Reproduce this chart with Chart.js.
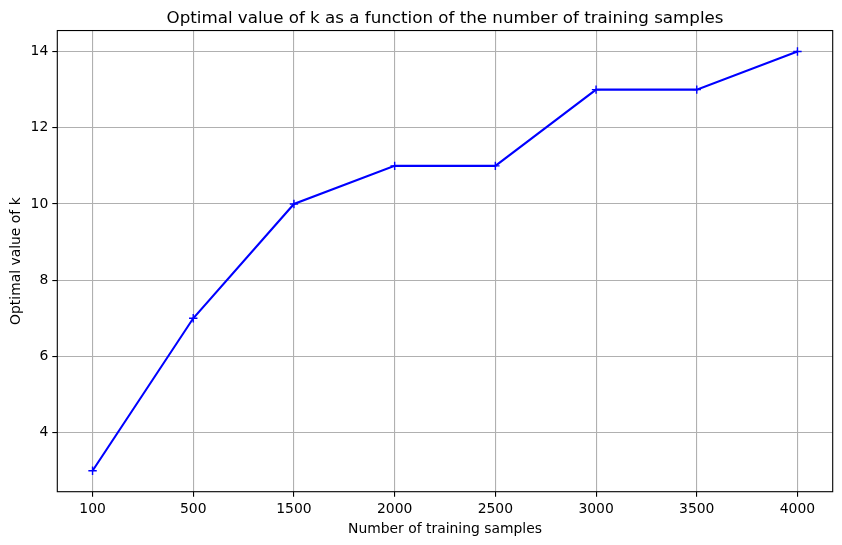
<!DOCTYPE html>
<html>
<head>
<meta charset="utf-8">
<script src="https://cdn.jsdelivr.net/npm/chart.js@4/dist/chart.umd.min.js"></script>
<style>
  html, body { margin: 0; padding: 0; background: #fff; }
  #wrap { width: 842px; height: 545px; }
</style>
</head>
<body>
<div id="wrap"><canvas id="grafico" width="842" height="545"></canvas></div>
<script>
// datos
var muestras = ['100', '500', '1500', '2000', '2500', '3000', '3500', '4000'];
var kOptimo = [3, 7, 10, 11, 11, 13, 13, 14];
var yTicks = [4, 6, 8, 10, 12, 14];

Chart.defaults.font.family = '"DejaVu Sans", sans-serif';
Chart.defaults.color = '#000';

// marco completo alrededor del area del grafico (como matplotlib)
var marco = {
  id: 'marco',
  afterDatasetsDraw: function(chart) {
    var a = chart.chartArea, ctx = chart.ctx;
    ctx.save();
    ctx.strokeStyle = '#000';
    ctx.lineWidth = 1.1;
    ctx.strokeRect(a.left, a.top, a.right - a.left, a.bottom - a.top);
    ctx.restore();
  }
};

var puntos = muestras.map(function(m, i) {
  return { x: i, y: kOptimo[i] };
});

new Chart(document.getElementById('grafico').getContext('2d'), {
  type: 'line',
  data: {
    datasets: [{
      data: puntos,
      borderColor: '#0000ff',
      borderWidth: 2.1,
      tension: 0,
      fill: false,
      pointStyle: 'cross',
      pointRadius: 4.2,
      pointBorderWidth: 1.4,
      pointBorderColor: '#0000ff',
      pointHoverRadius: 4.2
    }]
  },
  options: {
    responsive: false,
    animation: false,
    layout: { padding: { left: 0, right: 9.3, top: 0, bottom: 0 } },
    plugins: {
      legend: { display: false },
      tooltip: { enabled: false },
      title: {
        display: true,
        fullSize: false,
        text: 'Optimal value of k as a function of the number of training samples',
        font: { size: 16.7, weight: 'normal' },
        color: '#000',
        padding: { top: 8.5, bottom: 2 }
      }
    },
    scales: {
      x: {
        type: 'linear',
        min: -0.35,
        max: 7.35,
        afterBuildTicks: function(scale) {
          scale.ticks = muestras.map(function(m, i) { return { value: i }; });
        },
        afterFit: function(scale) { scale.height = 53.3; },
        ticks: {
          font: { size: 13.9 },
          color: '#000',
          padding: 4,
          maxRotation: 0,
          callback: function(v) { return muestras[v]; }
        },
        grid: { color: '#b0b0b0', lineWidth: 1.1, tickLength: 5, tickColor: '#000', tickWidth: 1.1 },
        border: { display: false },
        title: {
          display: true,
          text: 'Number of training samples',
          font: { size: 13.9 },
          color: '#000',
          padding: { top: 0, bottom: 7.7 }
        }
      },
      y: {
        min: 2.45,
        max: 14.55,
        afterBuildTicks: function(scale) {
          scale.ticks = yTicks.map(function(v) { return { value: v }; });
        },
        afterFit: function(scale) { scale.width = 57.3; },
        ticks: {
          font: { size: 13.9 },
          color: '#000',
          padding: 4
        },
        grid: { color: '#b0b0b0', lineWidth: 1.1, tickLength: 5, tickColor: '#000', tickWidth: 1.1 },
        border: { display: false },
        title: {
          display: true,
          text: 'Optimal value of k',
          font: { size: 13.9 },
          color: '#000',
          padding: { top: 8, bottom: 0 }
        }
      }
    }
  },
  plugins: [marco]
});
</script>
</body>
</html>
